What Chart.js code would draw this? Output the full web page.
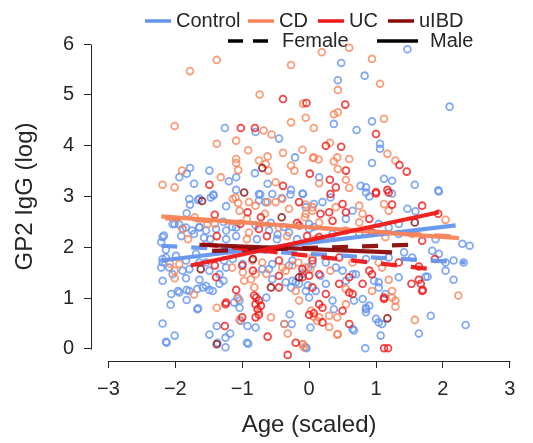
<!DOCTYPE html>
<html>
<head>
<meta charset="utf-8">
<script src="https://cdn.jsdelivr.net/npm/chart.js@4.4.1/dist/chart.umd.min.js"></script>
<style>
  html, body { margin: 0; padding: 0; background: #ffffff; }
  #wrap { width: 533px; height: 443px; }
</style>
</head>
<body>
<div id="wrap"><canvas id="c" width="533" height="443"></canvas></div>
<script>
// Groups, colours and legend labels
const groups = ['Control', 'CD', 'UC', 'uIBD'];
const groupColors = ['#6495ED', '#F7845A', '#F01818', '#8B0A0A'];
const sexes = ['Female', 'Male'];
const xTicks = [-3, -2, -1, 0, 1, 2, 3];
const yTicks = [0, 1, 2, 3, 4, 5, 6];

// Observations: [age (scaled), GP2 IgG (log)]
const controlPts = [
  [-1.26,4.35],[-0.80,4.27],[-0.45,4.14],[-0.21,3.77],[-1.94,3.38],[-1.78,3.56],[-1.83,3.45],[-1.72,3.25],
  [-1.49,3.51],[-1.20,3.30],[-1.09,3.38],[-0.81,3.46],[-0.62,3.25],[-0.27,3.13],[-0.10,3.06],[-1.09,3.13],
  [-1.43,3.04],[-1.64,2.96],[-0.75,3.05],[1.47,5.90],[0.48,5.63],[0.83,5.38],[0.43,5.29],[2.10,4.77],
  [0.37,4.43],[0.94,4.48],[0.71,4.31],[1.06,4.04],[1.06,3.94],[0.94,3.66],[0.15,3.38],[1.12,3.35],
  [1.24,3.31],[1.58,3.23],[1.93,3.12],[0.77,3.21],[0.85,3.18],[-0.09,3.05],[1.24,3.06],[-1.43,3.02],
  [-1.78,2.84],[-1.66,2.93],[-1.24,2.81],[-0.73,3.04],[-0.55,3.05],[-0.41,2.97],[-0.28,3.04],[-1.83,2.67],
  [-1.94,2.45],[-2.17,2.23],[-2.21,2.10],[-2.14,1.95],[-2.19,1.77],[-2.21,1.60],[-2.19,1.34],[-1.89,1.54],
  [-1.84,1.39],[-1.96,1.14],[-1.83,1.16],[-2.07,0.87],[-1.83,0.96],[-1.66,0.80],[-2.19,0.50],[-2.01,0.26],
  [-2.13,0.12],[-1.59,1.21],[-1.49,1.16],[-1.64,1.36],[-1.28,1.34],[-1.34,1.47],[-1.24,1.60],[-1.04,0.81],
  [-1.38,0.45],[-1.49,0.28],[-1.25,0.22],[-1.18,0.30],[-1.25,0.03],[-0.92,0.45],[-0.80,0.42],[-0.93,0.12],
  [-0.64,1.01],[-0.37,0.49],[-0.26,0.49],[-0.29,0.68],[0.02,0.42],[-0.05,1.14],[-0.25,1.34],[-0.15,1.28],
  [-2.04,2.46],[-1.89,2.37],[-1.75,2.33],[-1.64,2.40],[-1.54,2.33],[-1.28,2.50],[-1.15,2.40],[-0.80,2.43],
  [-0.57,2.48],[-0.47,2.25],[-0.38,2.40],[0.07,2.40],[-1.91,2.22],[-1.72,2.26],[-1.57,2.19],[-1.48,2.16],
  [-1.24,2.16],[-1.09,2.22],[-0.78,2.16],[-0.48,2.16],[-0.18,2.16],[-2.14,1.80],[-1.99,1.83],[-1.84,1.74],
  [-1.69,1.87],[-1.54,1.70],[-1.27,1.74],[-0.99,1.67],[-0.60,1.57],[-0.30,1.64],[-0.01,1.60],[-0.35,1.31],
  [-0.10,1.48],[1.94,3.10],[1.47,2.76],[1.59,2.71],[0.90,3.00],[0.85,3.08],[0.65,2.72],[0.32,2.98],
  [0.20,2.89],[1.04,2.46],[1.19,2.39],[1.34,2.46],[1.89,2.16],[2.29,2.07],[2.40,2.03],[1.84,1.93],
  [1.94,1.87],[2.04,1.70],[2.04,1.54],[2.16,1.36],[2.34,0.47],[1.77,1.42],[1.42,1.90],[1.34,1.41],
  [1.82,0.65],[1.64,0.30],[1.04,0.52],[1.07,0.26],[1.00,0.59],[0.84,0.01],[0.65,0.39],[-0.05,0.03],
  [0.85,0.78],[0.90,0.85],[0.80,0.98],[1.04,1.21],[1.14,1.08],[0.67,0.95],[0.35,0.95],[0.10,1.14],
  [-0.02,1.25],[0.00,1.01],[0.50,1.54],[0.70,1.47],[0.97,1.34],[0.40,1.60],[0.25,1.70],[0.85,1.77],
  [1.19,1.80],[1.54,1.80],[0.35,2.26],[0.75,2.26],[1.34,2.26],[0.00,2.46],[0.55,2.56],[-2.14,0.14],
  [-1.67,0.78],[-1.37,0.12],[-1.02,0.55],[0.37,0.78],[0.67,0.36],[1.09,0.49],[1.74,1.42],[0.85,0.81],
  [0.85,0.72],[-0.55,1.37],[-2.04,1.47],[-2.06,1.08],[-1.94,1.11],[-1.79,1.14],[-1.67,1.18],[-1.54,1.24],
  [-1.44,1.14],[-1.34,1.28],[-1.07,1.01],[-1.12,0.91],[-1.04,0.95],[-0.27,1.21],[-0.20,1.31],[0.17,1.44],
  [0.25,1.28],[0.55,1.34],[0.65,1.47],[1.04,1.31],[2.16,1.74],[2.31,1.70],[-0.91,0.10],[-0.04,0.01],
  [-1.79,2.95],[-1.47,2.98],[-0.75,2.92],[-0.65,2.89],[-0.05,2.79],[0.07,2.85],[-2.19,2.20],[-2.01,2.46],
  [-1.84,2.39],[-1.64,2.39],[-1.39,2.36],[-1.24,2.33],[-1.09,2.39],[-0.60,2.33],[-0.30,2.29],[0.00,2.36],
  [-2.19,1.70],[-2.09,1.60],[-1.79,1.57],[-1.64,1.70],[-1.49,1.54],[-1.14,1.77],[-0.70,1.57],[-0.55,1.67],
  [-0.25,1.74],[0.05,1.67]
];
const cdPts = [
  [-1.38,5.69],[-1.78,5.47],[-0.27,5.59],[-0.74,5.01],[-0.09,4.83],[-2.01,4.39],[-0.68,4.30],[-0.56,4.22],
  [-0.27,4.46],[-0.05,4.55],[-1.38,4.04],[-1.09,4.10],[-0.91,3.91],[-0.39,3.86],[-0.10,3.92],[0.06,3.76],
  [-1.09,3.74],[-1.09,3.66],[-1.06,3.52],[-0.75,3.71],[-0.62,3.79],[-0.65,3.64],[-0.61,3.51],[-0.27,3.61],
  [-0.22,3.51],[-1.90,3.51],[-2.19,3.23],[-2.01,3.18],[-1.32,3.38],[-0.50,3.28],[0.60,5.93],[0.19,5.84],
  [0.94,5.71],[0.43,5.10],[1.06,5.22],[0.37,4.62],[0.43,4.66],[0.07,4.35],[1.12,4.53],[0.31,4.06],
  [1.17,3.84],[0.07,3.77],[0.14,3.73],[0.42,3.77],[0.37,3.69],[0.60,3.74],[1.29,3.71],[0.43,3.54],
  [0.55,3.33],[0.15,3.26],[0.60,3.17],[-1.10,2.98],[-1.06,2.87],[-0.80,2.82],[-0.62,2.89],[-0.05,2.84],
  [0.05,2.72],[-1.71,2.59],[-2.08,1.68],[-2.01,1.54],[-2.01,1.39],[-1.72,1.07],[-1.38,0.81],[-1.06,0.99],
  [-1.04,0.57],[-0.82,1.21],[-0.87,1.37],[-0.80,1.47],[-0.97,1.34],[-0.57,0.62],[-0.32,0.30],[-0.08,0.03],
  [0.07,0.63],[-0.15,0.95],[-0.35,1.54],[-0.25,1.64],[-0.05,1.60],[-1.41,2.46],[-0.93,2.56],[-0.66,2.66],
  [-0.06,2.59],[-1.81,2.16],[-0.93,2.16],[-0.33,2.22],[0.10,2.16],[-1.15,1.60],[-0.70,1.70],[-0.16,1.70],
  [-0.99,1.51],[-0.64,1.48],[-0.20,1.14],[2.04,2.54],[1.12,2.85],[1.19,2.72],[0.75,2.82],[0.80,2.66],
  [0.40,2.79],[0.05,2.79],[-0.05,2.66],[2.23,1.05],[1.19,1.36],[1.58,0.57],[1.24,1.01],[1.29,0.83],
  [0.42,0.28],[-0.10,0.09],[0.94,1.14],[0.55,0.88],[0.30,0.65],[0.12,0.55],[0.03,0.75],[0.30,0.43],
  [0.42,0.62],[1.09,1.60],[0.32,1.54],[0.02,1.57],[0.05,1.80],[0.65,1.70],[1.04,1.70],[0.55,2.33],
  [1.14,2.20],[1.54,2.26],[0.15,2.49],[0.75,2.49],[-0.75,0.72],[-0.37,0.49],[0.15,0.62],[0.43,0.29],
  [0.55,1.18],[1.24,1.14],[1.29,0.95],[-0.09,0.09],[-1.14,2.95],[-1.04,2.72],[-0.90,2.89],[-0.50,2.89],
  [-0.40,2.95],[-0.30,2.76],[-1.89,2.36],[-1.52,2.46],[-0.90,2.29],[-0.45,2.39],[-1.94,1.67],[-0.85,1.74],
  [-0.40,1.60]
];
const ucPts = [
  [-0.39,4.92],[-0.04,4.84],[-1.02,4.35],[-0.81,4.35],[0.01,3.45],[-1.49,3.23],[-0.39,3.21],[0.54,4.81],
  [1.00,4.23],[0.25,4.00],[0.48,3.98],[1.35,3.62],[1.46,3.49],[0.55,3.51],[0.31,3.33],[0.40,3.18],
  [1.00,3.09],[1.17,3.13],[0.32,3.05],[-0.92,2.69],[-1.41,2.64],[-1.39,1.41],[-1.25,0.88],[-1.09,1.16],
  [-1.26,0.45],[-1.00,0.62],[-0.79,1.01],[-0.72,0.85],[-0.75,0.67],[-0.45,1.21],[-0.62,0.24],[-0.32,-0.12],
  [-0.20,0.12],[0.00,0.67],[0.05,1.21],[0.05,1.74],[-1.03,2.46],[-0.72,2.59],[-0.18,2.48],[-1.38,2.22],
  [-0.63,2.22],[-0.03,2.22],[-1.41,1.64],[-0.45,1.74],[-0.84,1.54],[-0.45,1.44],[0.00,1.44],[1.69,2.82],
  [1.93,2.66],[1.24,2.84],[1.00,3.06],[1.19,3.08],[0.50,2.85],[0.55,2.69],[0.17,2.66],[0.30,2.69],
  [1.88,1.77],[1.64,1.62],[1.53,1.28],[1.64,1.36],[1.70,1.16],[1.12,0.98],[1.12,0.01],[1.18,0.01],
  [0.60,0.49],[0.60,1.11],[0.25,1.08],[0.20,0.81],[0.07,0.70],[0.20,0.52],[0.50,0.75],[0.60,1.41],
  [0.80,1.28],[0.90,1.54],[0.15,1.47],[-0.10,1.41],[0.45,1.80],[1.34,1.70],[0.15,2.20],[0.94,2.29],
  [1.69,2.13],[0.35,2.52],[0.90,2.56],[-0.80,0.62],[-0.77,0.78],[0.65,1.08],[0.45,1.28],[0.15,0.88],
  [-0.82,1.05],[-0.75,0.95],[-0.80,0.88],[-1.24,0.91],[1.67,1.28],[1.69,1.14],[0.94,1.47],[1.12,1.01],
  [-0.15,2.89],[-0.75,2.36],[-0.15,2.43],[-1.00,1.64],[-0.10,1.57]
];
const uibdPts = [
  [-0.70,3.56],[-0.97,3.08],[-1.60,2.91],[-0.41,2.59],[-1.38,0.09],[-0.57,1.21],[-0.15,1.41],[-0.84,1.77],
  [1.58,2.49],[1.17,0.60],[-1.62,1.57]
];

// Fitted lines per group and sex: [start, end]
const controlFemaleFit = [[-2.21,2.03],[2.34,1.70]];
const controlMaleFit   = [[-2.21,1.74],[2.19,2.43]];
const cdFemaleFit      = [[-2.15,2.57],[2.20,2.21]];
const cdMaleFit        = [[-2.21,2.61],[2.24,2.18]];
const ucFemaleFit      = [[-1.60,2.06],[1.89,1.56]];
const ucMaleFit        = [[-1.77,1.64],[1.94,2.69]];
const uibdFemaleFit    = [[-1.45,1.93],[1.59,2.05]];
const uibdMaleFit      = [[-1.64,2.05],[1.24,1.90]];

const FONT = '"Liberation Sans", Arial, Helvetica, sans-serif';
const INK = '#262626';

function rgba(hex, a) {
  const n = parseInt(hex.slice(1), 16);
  return `rgba(${(n >> 16) & 255},${(n >> 8) & 255},${n & 255},${a})`;
}
const toXY = arr => arr.map(p => ({ x: p[0], y: p[1] }));
const minus = v => (v < 0 ? '\u2212' + Math.abs(v) : String(v));

const pointSets = [controlPts, cdPts, ucPts, uibdPts];
const fitSets = [
  [controlFemaleFit, controlMaleFit],
  [cdFemaleFit, cdMaleFit],
  [ucFemaleFit, ucMaleFit],
  [uibdFemaleFit, uibdMaleFit]
];
// stacking of fitted lines, lower = drawn later (on top)
const fitOrder = [[8, 6], [7, 5], [3, 1], [4, 2]];
const pointOrder = [13, 12, 11, 10];
const DASH = [16, 14];

const datasets = [];
groups.forEach((g, gi) => {
  datasets.push({
    label: g,
    data: toXY(pointSets[gi]),
    showLine: false,
    pointStyle: 'circle',
    pointRadius: 3.4,
    pointBorderWidth: 1.8,
    pointBackgroundColor: 'rgba(0,0,0,0)',
    pointBorderColor: rgba(groupColors[gi], 0.8),
    order: pointOrder[gi]
  });
  sexes.forEach((s, si) => {
    datasets.push({
      label: g + ' ' + s,
      data: toXY(fitSets[gi][si]),
      showLine: true,
      pointRadius: 0,
      borderWidth: 4.2,
      borderColor: rgba(groupColors[gi], 0.95),
      borderDash: si === 0 ? DASH : [],
      borderCapStyle: 'butt',
      fill: false,
      order: fitOrder[gi][si]
    });
  });
});

// R-style frame: partial axis lines, axis titles and a two-row legend
const rFrame = {
  id: 'rFrame',
  beforeDatasetsDraw(chart) {
    const ctx = chart.ctx;
    ctx.save();
    ctx.font = '20px ' + FONT;
    ctx.textBaseline = 'middle';
    ctx.textAlign = 'left';
    const row1 = 21, row2 = 41;
    const starts = [145, 248, 318, 388];
    groups.forEach((g, i) => {
      ctx.strokeStyle = groupColors[i];
      ctx.lineWidth = 3.5;
      ctx.beginPath();
      ctx.moveTo(starts[i], row1);
      ctx.lineTo(starts[i] + 26, row1);
      ctx.stroke();
      ctx.fillStyle = INK;
      ctx.fillText(g, starts[i] + 31, row1);
    });
    ctx.strokeStyle = '#000';
    ctx.lineWidth = 3.5;
    ctx.setLineDash([15, 10]);
    ctx.beginPath();
    ctx.moveTo(228, row2);
    ctx.lineTo(268, row2);
    ctx.stroke();
    ctx.setLineDash([]);
    ctx.fillText(sexes[0], 282, row2);
    ctx.beginPath();
    ctx.moveTo(377, row2);
    ctx.lineTo(418, row2);
    ctx.stroke();
    ctx.fillText(sexes[1], 430, row2);
    ctx.restore();
  },
  afterDraw(chart) {
    const ctx = chart.ctx;
    const xs = chart.scales.x, ys = chart.scales.y;
    const area = chart.chartArea;
    ctx.save();
    ctx.strokeStyle = INK;
    ctx.lineWidth = 1;
    ctx.beginPath();
    const by = Math.round(area.bottom) + 0.5;
    ctx.moveTo(Math.round(xs.getPixelForValue(xTicks[0])) + 0.5, by);
    ctx.lineTo(Math.round(xs.getPixelForValue(xTicks[xTicks.length - 1])) + 0.5, by);
    const lx = Math.round(area.left) + 0.5;
    ctx.moveTo(lx, Math.round(ys.getPixelForValue(yTicks[0])) + 0.5);
    ctx.lineTo(lx, Math.round(ys.getPixelForValue(yTicks[yTicks.length - 1])) + 0.5);
    ctx.stroke();

    ctx.fillStyle = INK;
    ctx.font = '24px ' + FONT;
    ctx.textAlign = 'center';
    ctx.textBaseline = 'middle';
    ctx.fillText('Age (scaled)', (area.left + area.right) / 2, 425);
    ctx.translate(25, (area.top + area.bottom) / 2);
    ctx.rotate(-Math.PI / 2);
    ctx.fillText('GP2 IgG (log)', 0, 0);
    ctx.restore();
  }
};

const tickFont = { family: FONT, size: 20 };

new Chart(document.getElementById('c'), {
  type: 'scatter',
  data: { datasets },
  options: {
    responsive: false,
    animation: false,
    devicePixelRatio: 1,
    layout: { padding: { top: 32, right: 4, left: 0, bottom: 0 } },
    plugins: { legend: { display: false }, tooltip: { enabled: false } },
    scales: {
      x: {
        type: 'linear',
        min: -3.26,
        max: 3.26,
        afterBuildTicks: s => { s.ticks = xTicks.map(v => ({ value: v })); },
        afterFit: s => { s.height = 82; },
        ticks: { callback: v => minus(v), font: tickFont, color: INK, padding: 9, maxRotation: 0, autoSkip: false },
        grid: { drawOnChartArea: false, drawTicks: true, tickLength: 7, tickColor: INK, color: INK, lineWidth: 1 },
        border: { display: false }
      },
      y: {
        type: 'linear',
        min: -0.24,
        max: 6.24,
        afterBuildTicks: s => { s.ticks = yTicks.map(v => ({ value: v })); },
        afterFit: s => { s.width = 91; },
        ticks: { callback: v => minus(v), font: tickFont, color: INK, padding: 10, autoSkip: false },
        grid: { drawOnChartArea: false, drawTicks: true, tickLength: 7, tickColor: INK, color: INK, lineWidth: 1 },
        border: { display: false }
      }
    }
  },
  plugins: [rFrame]
});
</script>
</body>
</html>
